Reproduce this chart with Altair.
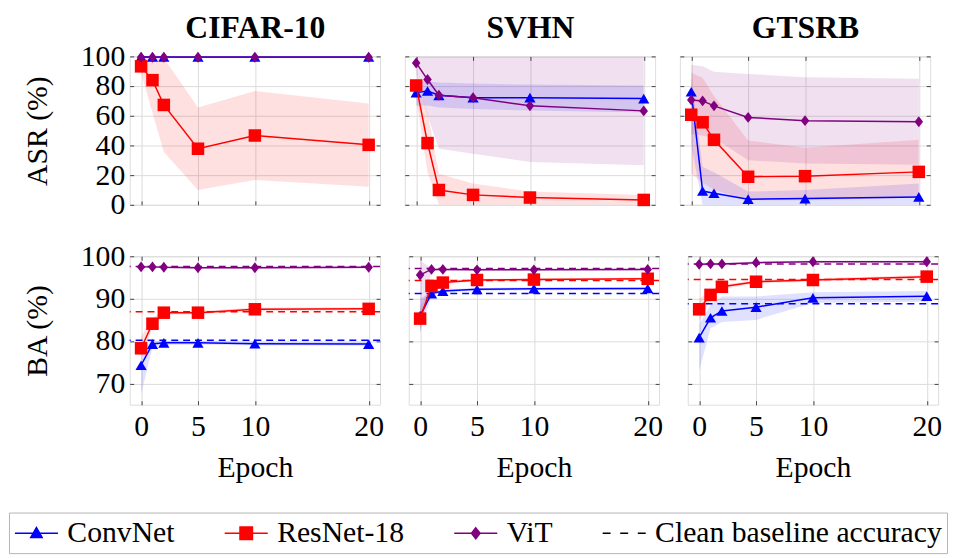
import altair as alt
import pandas as pd

# ---------------- data ----------------
epochs = [0, 1, 2, 5, 10, 20]
models = ["ConvNet", "ResNet-18", "ViT"]
datasets = ["CIFAR-10", "SVHN", "GTSRB"]
model_colors = ["#0000ff", "#ff0000", "#800080"]
legend_labels = ["ConvNet", "ResNet-18", "ViT", "Clean baseline accuracy"]
legend_colors = ["#0000ff", "#ff0000", "#800080", "#000000"]

x_ticks = [0, 5, 10, 20]
asr_ticks = [0, 20, 40, 60, 80, 100]
ba_ticks = [70, 80, 90, 100]

# ASR (%) : mean, lower, upper
cifar_asr_convnet = [99.7, 99.6, 99.6, 99.6, 99.6, 99.6]
cifar_asr_convnet_lo = [99.0, 99.0, 99.0, 99.0, 99.0, 99.0]
cifar_asr_convnet_hi = [100.0, 100.0, 100.0, 100.0, 100.0, 100.0]
cifar_asr_resnet = [93.3, 84.0, 67.3, 37.8, 46.7, 40.4]
cifar_asr_resnet_lo = [88.9, 62.0, 35.6, 10.0, 16.7, 12.2]
cifar_asr_resnet_hi = [99.5, 99.8, 98.9, 65.6, 76.7, 68.2]
cifar_asr_vit = [99.4, 99.4, 99.4, 99.4, 99.4, 99.4]
cifar_asr_vit_lo = [98.8, 98.8, 98.8, 98.8, 98.8, 98.8]
cifar_asr_vit_hi = [100.0, 100.0, 100.0, 100.0, 100.0, 100.0]

svhn_asr_convnet = [75.6, 76.7, 73.8, 72.2, 72.2, 71.6]
svhn_asr_convnet_lo = [66.7, 67.0, 65.6, 64.5, 63.5, 62.2]
svhn_asr_convnet_hi = [83.3, 83.3, 82.5, 81.8, 81.0, 80.4]
svhn_asr_resnet = [80.4, 41.6, 10.0, 6.7, 4.9, 3.3]
svhn_asr_resnet_lo = [72.0, 22.0, 0.0, 0.0, 0.0, 0.0]
svhn_asr_resnet_hi = [86.0, 62.0, 21.0, 14.4, 8.9, 6.7]
svhn_asr_vit = [95.6, 84.4, 73.8, 72.2, 66.7, 63.3]
svhn_asr_vit_lo = [88.0, 60.0, 37.8, 34.4, 28.9, 26.7]
svhn_asr_vit_hi = [100.0, 100.0, 100.0, 100.0, 100.0, 100.0]

gtsrb_asr_convnet = [76.2, 9.3, 7.8, 3.8, 4.2, 5.3]
gtsrb_asr_convnet_lo = [40.0, 0.0, 0.0, 0.0, 0.0, 0.0]
gtsrb_asr_convnet_hi = [86.0, 25.6, 22.0, 8.9, 10.0, 14.4]
gtsrb_asr_resnet = [60.7, 55.6, 43.8, 18.9, 19.3, 22.2]
gtsrb_asr_resnet_lo = [21.0, 15.0, 10.0, 3.0, 3.0, 5.0]
gtsrb_asr_resnet_hi = [88.9, 85.6, 73.3, 43.3, 38.4, 43.8]
gtsrb_asr_vit = [70.7, 70.0, 66.7, 58.9, 56.7, 56.0]
gtsrb_asr_vit_lo = [47.8, 46.5, 45.0, 30.0, 27.8, 27.0]
gtsrb_asr_vit_hi = [94.4, 93.3, 89.6, 88.2, 86.0, 84.9]

# BA (%) : mean, lower, upper
cifar_ba_convnet = [74.3, 79.3, 79.6, 79.6, 79.4, 79.3]
cifar_ba_convnet_lo = [67.5, 78.5, 79.1, 79.2, 79.0, 78.9]
cifar_ba_convnet_hi = [78.5, 80.0, 80.1, 80.0, 79.8, 79.7]
cifar_ba_resnet = [78.3, 84.1, 86.7, 86.7, 87.5, 87.6]
cifar_ba_resnet_lo = [76.5, 83.0, 86.2, 86.3, 87.1, 87.2]
cifar_ba_resnet_hi = [81.0, 85.5, 87.2, 87.1, 87.9, 88.0]
cifar_ba_vit = [97.5, 97.5, 97.4, 97.3, 97.3, 97.4]
cifar_ba_vit_lo = [97.2, 97.2, 97.1, 97.0, 97.0, 97.1]
cifar_ba_vit_hi = [97.8, 97.8, 97.7, 97.6, 97.6, 97.7]

svhn_ba_convnet = [86.0, 91.2, 91.8, 92.2, 92.35, 92.4]
svhn_ba_convnet_lo = [82.0, 90.8, 91.4, 91.9, 92.0, 92.1]
svhn_ba_convnet_hi = [90.0, 91.6, 92.2, 92.5, 92.7, 92.7]
svhn_ba_resnet = [85.3, 93.0, 93.8, 94.4, 94.5, 94.7]
svhn_ba_resnet_lo = [83.0, 92.5, 93.4, 94.1, 94.2, 94.4]
svhn_ba_resnet_hi = [88.0, 93.5, 94.2, 94.7, 94.8, 95.0]
svhn_ba_vit = [95.6, 96.9, 96.9, 96.8, 96.8, 96.9]
svhn_ba_vit_lo = [82.0, 96.5, 96.6, 96.6, 96.6, 96.7]
svhn_ba_vit_hi = [99.0, 97.2, 97.2, 97.1, 97.1, 97.1]

gtsrb_ba_convnet = [80.8, 85.5, 87.1, 88.0, 90.2, 90.6]
gtsrb_ba_convnet_lo = [73.0, 83.0, 84.5, 85.0, 89.0, 89.3]
gtsrb_ba_convnet_hi = [84.0, 88.5, 90.5, 90.5, 91.5, 91.8]
gtsrb_ba_resnet = [87.5, 90.9, 92.8, 94.0, 94.4, 95.2]
gtsrb_ba_resnet_lo = [84.5, 89.8, 92.3, 93.6, 94.0, 94.8]
gtsrb_ba_resnet_hi = [90.0, 92.0, 93.3, 94.4, 94.8, 95.6]
gtsrb_ba_vit = [98.1, 98.2, 98.2, 98.5, 98.7, 98.7]
gtsrb_ba_vit_lo = [97.8, 97.9, 97.9, 98.2, 98.4, 98.4]
gtsrb_ba_vit_hi = [98.4, 98.5, 98.5, 98.8, 99.0, 99.0]

# clean baseline accuracy (ConvNet, ResNet-18, ViT)
cifar_baseline = [80.2, 86.9, 97.6]
svhn_baseline = [91.2, 94.3, 97.1]
gtsrb_baseline = [88.8, 94.5, 98.2]

series = {
    ("CIFAR-10", "ASR"): [(cifar_asr_convnet, cifar_asr_convnet_lo, cifar_asr_convnet_hi),
                         (cifar_asr_resnet, cifar_asr_resnet_lo, cifar_asr_resnet_hi),
                         (cifar_asr_vit, cifar_asr_vit_lo, cifar_asr_vit_hi)],
    ("SVHN", "ASR"): [(svhn_asr_convnet, svhn_asr_convnet_lo, svhn_asr_convnet_hi),
                     (svhn_asr_resnet, svhn_asr_resnet_lo, svhn_asr_resnet_hi),
                     (svhn_asr_vit, svhn_asr_vit_lo, svhn_asr_vit_hi)],
    ("GTSRB", "ASR"): [(gtsrb_asr_convnet, gtsrb_asr_convnet_lo, gtsrb_asr_convnet_hi),
                      (gtsrb_asr_resnet, gtsrb_asr_resnet_lo, gtsrb_asr_resnet_hi),
                      (gtsrb_asr_vit, gtsrb_asr_vit_lo, gtsrb_asr_vit_hi)],
    ("CIFAR-10", "BA"): [(cifar_ba_convnet, cifar_ba_convnet_lo, cifar_ba_convnet_hi),
                        (cifar_ba_resnet, cifar_ba_resnet_lo, cifar_ba_resnet_hi),
                        (cifar_ba_vit, cifar_ba_vit_lo, cifar_ba_vit_hi)],
    ("SVHN", "BA"): [(svhn_ba_convnet, svhn_ba_convnet_lo, svhn_ba_convnet_hi),
                    (svhn_ba_resnet, svhn_ba_resnet_lo, svhn_ba_resnet_hi),
                    (svhn_ba_vit, svhn_ba_vit_lo, svhn_ba_vit_hi)],
    ("GTSRB", "BA"): [(gtsrb_ba_convnet, gtsrb_ba_convnet_lo, gtsrb_ba_convnet_hi),
                     (gtsrb_ba_resnet, gtsrb_ba_resnet_lo, gtsrb_ba_resnet_hi),
                     (gtsrb_ba_vit, gtsrb_ba_vit_lo, gtsrb_ba_vit_hi)],
}
baselines = {"CIFAR-10": cifar_baseline, "SVHN": svhn_baseline, "GTSRB": gtsrb_baseline}

rows = []
for (ds, metric), triples in series.items():
    for m, (mean, lo, hi) in zip(models, triples):
        for e, a, b, c in zip(epochs, mean, lo, hi):
            rows.append({"dataset": ds, "metric": metric, "model": m,
                         "epoch": e, "mean": a, "lo": b, "hi": c})
df = pd.DataFrame(rows)

base_rows = []
for ds, vals in baselines.items():
    for m, v in zip(models, vals):
        base_rows.append({"dataset": ds, "model": m, "baseline": v})
bdf = pd.DataFrame(base_rows)

# ---------------- styling ----------------
FONT = "Liberation Serif"
FS = 30
TICK = 4
W, H = 253, 150
point_shapes = ["triangle-up", "square", "M0,-1L0.78,0L0,1L-0.78,0Z"]
point_sizes = [128, 160, 121]

legend_paths = [
    "M-1,0L1.9,0M0.45,-0.38L0.827,0.27L0.073,0.27Z",
    "M-1,0L1.9,0M0.033,-0.417L0.867,-0.417L0.867,0.417L0.033,0.417Z",
    "M-1,0L1.9,0M0.45,-0.367L0.737,0L0.45,0.367L0.163,0Z",
    "M-1,0L-0.467,0M0.183,0L0.717,0M1.367,0L1.9,0",
]


def make_axis(orient, values, labels, title):
    kw = dict(orient=orient, values=values, offset=-TICK, tickSize=TICK,
              domain=False, labels=labels, tickColor="#444", tickWidth=1,
              labelFont=FONT, labelFontSize=FS, labelColor="black",
              labelOverlap=False, labelFlush=False,
              titleFont=FONT, titleFontSize=FS, titleFontWeight="normal",
              titleColor="black", title=title)
    if orient in ("left", "bottom"):
        kw.update(grid=True, gridColor="#dcdcdc", gridWidth=1)
    else:
        kw.update(grid=False)
    if orient == "left":
        kw.update(labelPadding=5, titlePadding=28)
    if orient == "bottom":
        kw.update(labelPadding=7, titlePadding=12)
    if orient == "top" and title is not None:
        kw.update(titleFontSize=32, titleFontWeight="bold", titlePadding=12)
    return alt.Axis(**kw)


def panel(ds, metric, col, row, with_legend=False):
    sub = df[(df.dataset == ds) & (df.metric == metric)]
    ydom = [0, 100] if metric == "ASR" else [65, 100]
    yticks = asr_ticks if metric == "ASR" else ba_ticks
    xs = alt.Scale(domain=[-1, 21], nice=False, zero=False)
    ys = alt.Scale(domain=ydom, nice=False, zero=False)
    ytitle = ("ASR (%)" if metric == "ASR" else "BA (%)") if col == 0 else None
    xtitle = "Epoch" if row == 1 else None
    ttitle = ds if row == 0 else None
    ax_x = make_axis("bottom", x_ticks, row == 1, xtitle)
    ax_y = make_axis("left", yticks, col == 0, ytitle)
    base = alt.Chart(sub)
    layers = []
    # shaded bands
    for i, m in enumerate(models):
        layers.append(
            base.transform_filter(alt.datum.model == m)
            .mark_area(color=model_colors[i], opacity=0.12, clip=True)
            .encode(x=alt.X("epoch:Q", scale=xs, axis=ax_x if i == 0 else None),
                    y=alt.Y("lo:Q", scale=ys, axis=ax_y if i == 0 else None),
                    y2="hi:Q")
        )
    # clean baseline accuracy
    if metric == "BA":
        bsub = bdf[bdf.dataset == ds]
        for i, m in enumerate(models):
            layers.append(
                alt.Chart(bsub).transform_filter(alt.datum.model == m)
                .mark_rule(color=model_colors[i], strokeDash=[7, 5], strokeWidth=1.5)
                .encode(y=alt.Y("baseline:Q", scale=ys, axis=None))
            )
    # lines + markers
    for i, m in enumerate(models):
        sm = base.transform_filter(alt.datum.model == m)
        layers.append(
            sm.mark_line(color=model_colors[i], strokeWidth=1.5)
            .encode(x=alt.X("epoch:Q", scale=xs, axis=None),
                    y=alt.Y("mean:Q", scale=ys, axis=None))
        )
        layers.append(
            sm.mark_point(color=model_colors[i], filled=True, opacity=1,
                          shape=point_shapes[i], size=point_sizes[i])
            .encode(x=alt.X("epoch:Q", scale=xs, axis=None),
                    y=alt.Y("mean:Q", scale=ys, axis=None))
        )
    # mirrored ticks on top / right (top axis also carries the dataset title)
    layers.append(
        base.mark_point(opacity=0)
        .encode(x=alt.X("epoch:Q", scale=xs, axis=make_axis("top", x_ticks, False, ttitle)),
                y=alt.Y("mean:Q", scale=ys, axis=make_axis("right", yticks, False, None)))
    )
    if with_legend:
        leg = alt.Legend(orient="none", legendX=-122, legendY=461, direction="horizontal",
                         columns=4, title=None, labelFont=FONT, labelFontSize=FS,
                         labelColor="black", labelOffset=22, columnPadding=46,
                         symbolSize=900, symbolStrokeWidth=1.6, labelLimit=600,
                         padding=5, strokeColor="#b4b4b4", fillColor="white",
                         symbolOpacity=1)
        ldf = pd.DataFrame({"entry": legend_labels})
        layers.append(
            alt.Chart(ldf).transform_filter("false").mark_point(opacity=1)
            .encode(
                fill=alt.Fill("entry:N", scale=alt.Scale(domain=legend_labels, range=legend_colors), legend=leg),
                stroke=alt.Stroke("entry:N", scale=alt.Scale(domain=legend_labels, range=legend_colors), legend=leg),
                shape=alt.Shape("entry:N", scale=alt.Scale(domain=legend_labels, range=legend_paths), legend=leg),
            )
        )
    ch = alt.layer(*layers).resolve_axis(x="independent", y="independent")
    return ch.properties(width=W, height=H)


top = alt.hconcat(*[panel(ds, "ASR", c, 0) for c, ds in enumerate(datasets)], spacing=23)
bottom = alt.hconcat(*[panel(ds, "BA", c, 1, with_legend=(c == 0)) for c, ds in enumerate(datasets)],
                     spacing=23)

chart = (
    alt.vconcat(top, bottom, spacing=20)
    .properties(padding={"left": 0, "top": 0, "right": 0, "bottom": 0})
    .configure_view(stroke="#000000", strokeWidth=1)
    .configure(background="white")
)

chart.save("out.html", embed_options={"renderer": "svg", "actions": False})
